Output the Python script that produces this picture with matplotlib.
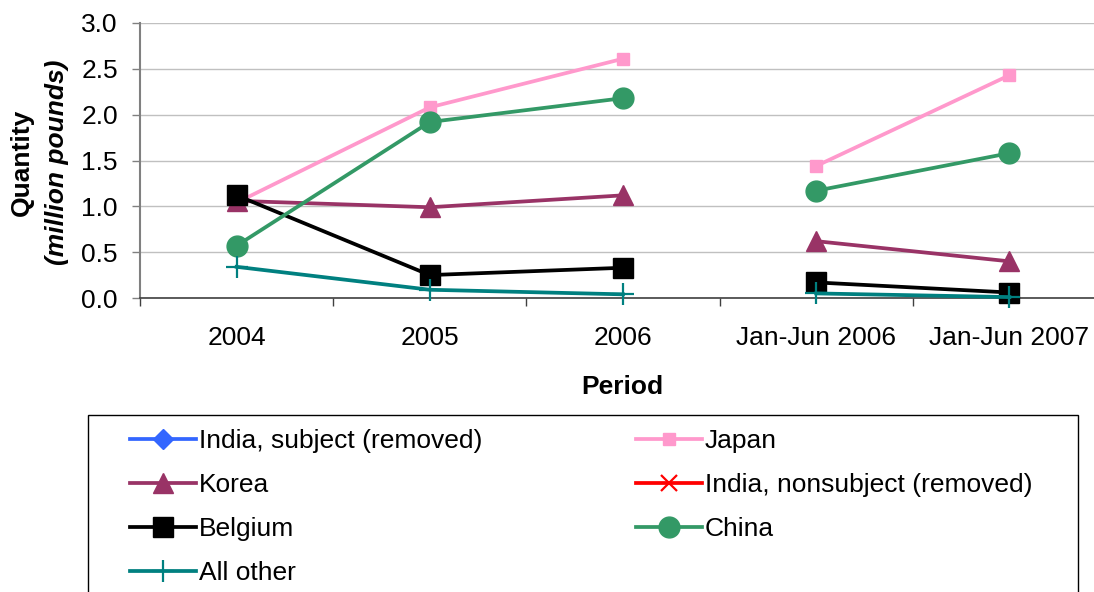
import matplotlib
matplotlib.use('Agg')
import matplotlib.pyplot as plt
from matplotlib.lines import Line2D
from matplotlib.patches import Rectangle

plt.rcParams['font.family'] = ['Liberation Sans', 'DejaVu Sans']

periods = ['2004', '2005', '2006', 'Jan-Jun 2006', 'Jan-Jun 2007']

# million pounds, full years first, then the interim periods
japan = [1.04, 2.08, 2.61, 1.44, 2.43]
korea = [1.06, 0.99, 1.12, 0.62, 0.40]
belgium = [1.12, 0.25, 0.33, 0.17, 0.06]
china = [0.57, 1.92, 2.18, 1.17, 1.58]
all_other = [0.34, 0.09, 0.04, 0.05, 0.01]

series = [
    ('India, subject (removed)', None, '#3366ff', 'D', 10),
    ('Japan', japan, '#ff99cc', 's', 9),
    ('Korea', korea, '#993366', '^', 15),
    ('India, nonsubject (removed)', None, '#ff0000', 'x', 12),
    ('Belgium', belgium, '#000000', 's', 14),
    ('China', china, '#339966', 'o', 15),
    ('All other', all_other, '#008080', '+', 16),
]

FS = 19

fig = plt.figure(figsize=(10.94, 5.92), dpi=100)
ax = fig.add_axes([140 / 1094, 1 - 298 / 592, 966 / 1094, 275 / 592])

x = list(range(len(periods)))
handles = {}
for i, (name, vals, color, marker, ms) in enumerate(series):
    mew = 1.6 if marker in ('+', 'x') else 1
    h = Line2D([], [], color=color, lw=2.7, marker=marker, markersize=ms,
               markeredgewidth=mew, markeredgecolor=color, markerfacecolor=color)
    handles[name] = h
    if vals is None:
        continue
    # annual data and interim data are drawn as separate segments
    for sl in (slice(0, 3), slice(3, 5)):
        ax.plot(x[sl], vals[sl], color=color, lw=2.7, marker=marker, markersize=ms,
                markeredgewidth=mew, markeredgecolor=color, markerfacecolor=color,
                zorder=3 + i, clip_on=False)

ax.set_xlim(-0.5, 4.5)
ax.set_ylim(0, 3.0)
ax.set_yticks([0, 0.5, 1.0, 1.5, 2.0, 2.5, 3.0])
ax.set_yticklabels(['0.0', '0.5', '1.0', '1.5', '2.0', '2.5', '3.0'])
ax.grid(axis='y', color='#c0c0c0', lw=1)
ax.set_axisbelow(True)

ax.set_xticks([-0.5, 0.5, 1.5, 2.5, 3.5, 4.5])
ax.set_xticklabels([])
ax.set_xticks(x, minor=True)
ax.set_xticklabels(periods, minor=True)
ax.tick_params(axis='x', which='major', length=6, width=1, color='#404040', direction='out')
ax.tick_params(axis='x', which='minor', length=0, pad=20, labelsize=FS)
ax.tick_params(axis='y', length=6, width=1, color='#808080', pad=10, labelsize=FS)

for s in ('top', 'right'):
    ax.spines[s].set_visible(False)
ax.spines['left'].set_color('#808080')
ax.spines['left'].set_linewidth(1.5)
ax.spines['bottom'].set_color('#404040')
ax.spines['bottom'].set_linewidth(1.2)

fig.text(622 / 1094, 1 - 387 / 592, 'Period', ha='center', va='center',
         fontsize=FS, fontweight='bold')
fig.text(22 / 1094, 1 - 162 / 592, 'Quantity', ha='center', va='center',
         rotation=90, fontsize=FS, fontweight='bold')
fig.text(57 / 1094, 1 - 162 / 592, '(million pounds)', ha='center', va='center',
         rotation=90, fontsize=FS, fontweight='bold', fontstyle='italic')

# legend: left column then right column
order = ['India, subject (removed)', 'Korea', 'Belgium', 'All other',
         'Japan', 'India, nonsubject (removed)', 'China']
fig.legend([handles[n] for n in order], order, loc='upper left',
           bbox_to_anchor=(130 / 1094, 1 - 429 / 592), ncol=2, frameon=False,
           borderpad=0, borderaxespad=0, fontsize=FS, handlelength=2.5,
           handletextpad=0.1, labelspacing=0.76, columnspacing=5.85)
fig.add_artist(Rectangle((88 / 1094, -0.05), 990 / 1094, 1 - 415 / 592 + 0.05,
                         transform=fig.transFigure, fill=False,
                         edgecolor='black', lw=1))

fig.savefig('out.png', dpi=100)
